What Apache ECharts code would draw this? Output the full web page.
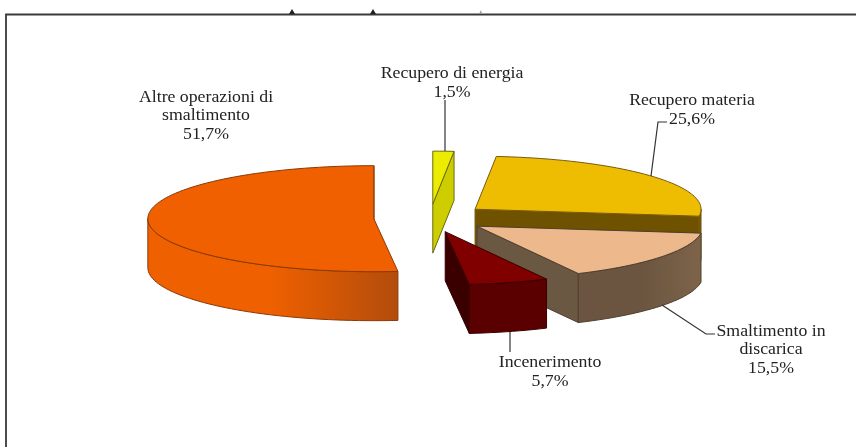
<!DOCTYPE html>
<html>
<head>
<meta charset="utf-8">
<title>Gestione rifiuti</title>
<script src="https://cdn.jsdelivr.net/npm/echarts@6/dist/echarts.min.js"></script>
<style>
  html, body { margin: 0; padding: 0; background: #fff; }
  #chart { width: 856px; height: 447px; filter: blur(0.45px); }
</style>
</head>
<body>
<div id="chart"></div>
<script>
// dati, in senso antiorario da ore 12
var categories = ["Altre operazioni di\nsmaltimento", "Incenerimento", "Smaltimento in\ndiscarica", "Recupero materia", "Recupero di energia"];
var values = [51.7, 5.7, 15.5, 25.6, 1.5];

// geometria della torta
var center = [428, 218];
var rx = 226;
var ry = 53;
var depth = 49;
var startAngle = 90;
var explode = [0.24, 0.27, 0.266, 0.266, 0.262];
var nudgeX = [0, 0, 0, 0, 2]; // la fetta piccola nell'originale e' un po' spostata
var paintOrder = [3, 5, 4, 1, 2]; // z2 di ogni fetta, dal fondo al davanti

// colori: top, parete radiale, parete esterna sx, parete esterna dx, bordo
var topColors = ["#f06000", "#800000", "#ecb88c", "#eebc00", "#ecec00"];
var faceColors = ["#b04c0a", "#3a0000", "#6b5843", "#6e5200", "#cdcd00"];
var wallLeft = ["#ee6000", "#5a0000", "#6b5540", "#6e5200", "#cdcd00"];
var wallRight = ["#b24c0c", "#5a0000", "#7d6449", "#6e5200", "#cdcd00"];
var edgeColors = ["#8a3a08", "#3a0000", "#4f3f30", "#7a5a10", "#6a6a10"];

// posizioni etichette e linee guida
var labelPos = [[206, 116], [550, 372], [771, 350], [692, 110], [452, 83]];
var leaders = [
  null,
  [[510, 332], [510, 352]],
  [[662, 305], [706, 334], [715, 334]],
  [[667, 122], [658, 122], [651, 176]],
  [[445, 100], [445, 151]]
];

function rad(a) { return a * Math.PI / 180; }

function pt(c, a, dz) {
  return [c[0] + rx * Math.cos(rad(a)), c[1] - ry * Math.sin(rad(a)) + (dz || 0)];
}

function arcPts(c, a0, a1, dz) {
  var pts = [];
  var n = Math.max(2, Math.ceil(Math.abs(a1 - a0) / 2));
  for (var i = 0; i <= n; i++) {
    pts.push(pt(c, a0 + (a1 - a0) * i / n, dz));
  }
  return pts;
}

function percent(v) {
  return v.toFixed(1).replace(".", ",") + "%";
}

function renderSlice(params, api) {
  var idx = params.dataIndex;
  var from = startAngle;
  for (var i = 0; i < idx; i++) { from += values[i] * 3.6; }
  var to = from + api.value(0) * 3.6;
  var mid = (from + to) / 2;
  var c = [
    center[0] + nudgeX[idx] + explode[idx] * rx * Math.cos(rad(mid)),
    center[1] - explode[idx] * ry * Math.sin(rad(mid))
  ];
  var z = paintOrder[idx] * 10;
  var edge = { stroke: edgeColors[idx], lineWidth: 1, lineJoin: "round" };
  var children = [];

  function poly(points, fill, zz) {
    children.push({
      type: "polygon",
      z2: z + zz,
      shape: { points: points },
      style: Object.assign({ fill: fill }, edge)
    });
  }

  // parete radiale iniziale, visibile se guarda verso l'osservatore
  if (Math.cos(rad(from)) > 0) {
    poly([c, pt(c, from), pt(c, from, depth), [c[0], c[1] + depth]], faceColors[idx], 0);
  }

  // parete esterna, solo la parte davanti
  var a0 = Math.max(from, 180);
  var a1 = Math.min(to, 360);
  if (a1 > a0) {
    var pts = arcPts(c, a0, a1, 0).concat(arcPts(c, a1, a0, depth));
    var fill = new echarts.graphic.LinearGradient(0, 0, 1, 0, [
      { offset: 0, color: wallLeft[idx] },
      { offset: 0.5, color: wallLeft[idx] },
      { offset: 1, color: wallRight[idx] }
    ]);
    poly(pts, fill, 1);
  }

  // faccia superiore
  poly([c].concat(arcPts(c, from, to, 0)), topColors[idx], 2);

  // linea guida
  if (leaders[idx]) {
    children.push({
      type: "polyline",
      z2: 100,
      shape: { points: leaders[idx] },
      style: { stroke: "#333", lineWidth: 1.2, fill: null }
    });
  }

  // etichetta, il testo originale e' un po' allargato
  children.push({
    type: "text",
    z2: 110,
    x: labelPos[idx][0],
    y: labelPos[idx][1],
    scaleX: 1.11,
    style: {
      x: 0,
      y: 0,
      text: categories[idx] + "\n" + percent(api.value(0)),
      textAlign: "center",
      textVerticalAlign: "middle",
      fontFamily: "Liberation Serif",
      fontSize: 16,
      lineHeight: 18.6,
      fill: "#222"
    }
  });

  return { type: "group", children: children };
}

var chart = echarts.init(document.getElementById("chart"));
chart.setOption({
  animation: false,
  backgroundColor: "#fff",
  graphic: [
    // cornice tagliata a destra e in basso
    {
      type: "polyline",
      shape: { points: [[6, 447], [6, 14.5], [856, 14.5]] },
      style: { stroke: "#3a3a3a", lineWidth: 1.8, fill: null }
    },
    // resti del titolo tagliato sopra la cornice
    { type: "polygon", shape: { points: [[289, 14], [292, 9], [295, 14]] }, style: { fill: "#222" } },
    { type: "polygon", shape: { points: [[370, 14], [373, 9], [376, 14]] }, style: { fill: "#222" } },
    { type: "polygon", shape: { points: [[479, 14], [481, 10], [482, 14]] }, style: { fill: "#999" } }
  ],
  series: [
    {
      type: "custom",
      coordinateSystem: "none",
      silent: true,
      clip: false,
      renderItem: renderSlice,
      data: values.map(function (v) { return [v]; })
    }
  ]
});
</script>
</body>
</html>
